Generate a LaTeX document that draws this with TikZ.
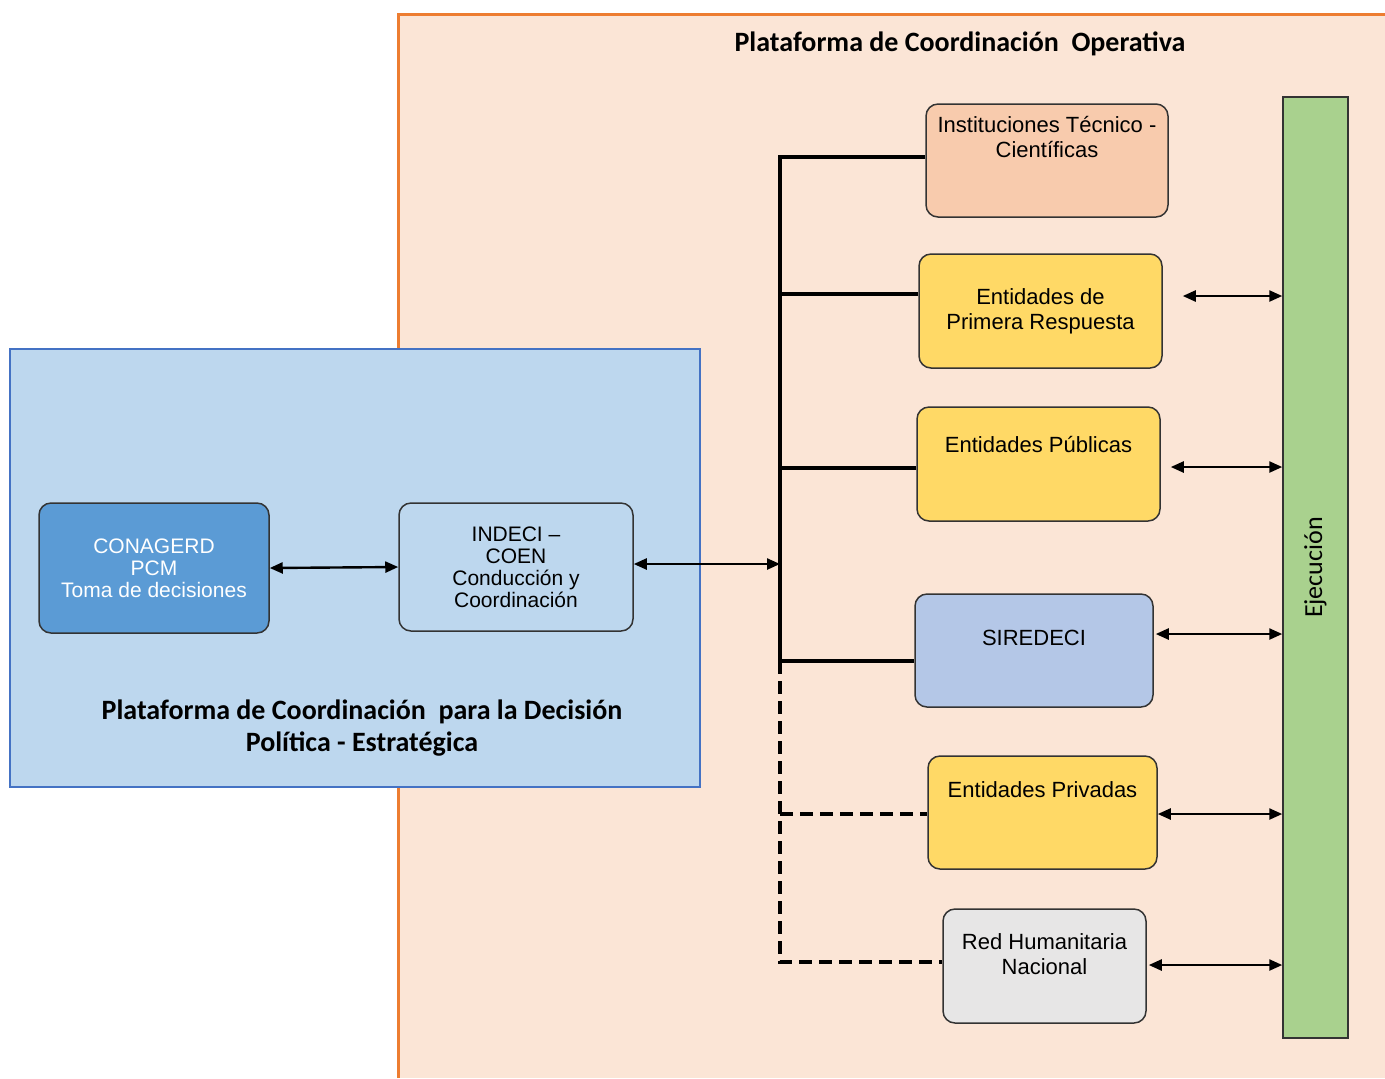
\documentclass[tikz,border=0pt]{standalone}
\usepackage{fontspec}
\setmainfont{Liberation Sans}
\newfontfamily\calibri{Carlito}
\usetikzlibrary{arrows.meta,positioning}

\definecolor{opfill}{HTML}{FBE5D6}
\definecolor{opline}{HTML}{ED7D31}
\definecolor{dpfill}{HTML}{BDD7EE}
\definecolor{dpline}{HTML}{4472C4}
\definecolor{conafill}{HTML}{5B9BD5}
\definecolor{itcfill}{HTML}{F8CBAD}
\definecolor{yelfill}{HTML}{FFD966}
\definecolor{sirfill}{HTML}{B4C7E7}
\definecolor{rhnfill}{HTML}{E7E6E6}
\definecolor{ejfill}{HTML}{A9D18E}

\begin{document}
\begin{tikzpicture}[x=0.5pt,y=-0.5pt,
  box/.style={draw=black!80,line width=0.75pt,rounded corners=6pt,align=center,
    inner sep=0pt,minimum height=57pt},
  lbox/.style={box,font=\fontsize{10.5}{11}\selectfont},
  rbox/.style={box,font=\fontsize{11}{12.5}\selectfont},
  boxtxt/.style={align=center,anchor=center,inner sep=0pt,font=\fontsize{11}{12.5}\selectfont},
  title/.style={align=center,font=\calibri\bfseries\fontsize{14}{16}\selectfont},
  busln/.style={line width=2.2pt},
  dashln/.style={dash pattern=on 6.5pt off 3.5pt},
  dbl/.style={line width=1.2pt,{Triangle[length=6.5pt,width=5.5pt]}-{Triangle[length=6.5pt,width=5.5pt]}}]
  \useasboundingbox (0,0) rectangle (1385,1078);

  % panels
  \fill[opfill] (398,14) rectangle (1385,1078);
  \draw[opline,line width=1.5pt] (398,1078) -- (398,14) -- (1385,14);
  \draw[dpline,line width=1pt,fill=dpfill] (10,349) rectangle (700,787);
  \node[title] (optitle) at (960,44) {Plataforma de Coordinación~ Operativa};
  \node[title] (dptitle) at (362,728) {Plataforma de Coordinación~ para la Decisión\\Política - Estratégica};

  % decision side
  \node[lbox,fill=conafill,text=white,minimum width=115pt,minimum height=65pt] (cona) at (154,568)
    {CONAGERD\\PCM\\Toma de decisiones};
  \node[lbox,fill=dpfill,minimum width=117pt,minimum height=64pt] (indeci) at (516,567)
    {INDECI --\\COEN\\Conducción y\\Coordinación};

  % operative side
  \node[rbox,fill=itcfill,minimum width=121pt,minimum height=56.5pt,
    label={[boxtxt,yshift=-16.75pt]north:{Instituciones Técnico -\\Científicas}}] (itc) at (1047,160.5) {};
  \node[rbox,fill=yelfill,minimum width=121.5pt] (epr) at (1040.5,311) {Entidades de\\Primera Respuesta};
  \node[rbox,fill=yelfill,minimum width=121.5pt,
    label={[boxtxt,yshift=-19pt]north:Entidades Públicas}] (ep) at (1038.5,464) {};
  \node[rbox,fill=sirfill,minimum width=119pt,minimum height=56.5pt,
    label={[boxtxt,yshift=-22.5pt]north:SIREDECI}] (sir) at (1034,650.5) {};
  \node[rbox,fill=yelfill,minimum width=114.5pt,minimum height=56.5pt,
    label={[boxtxt,yshift=-17pt]north:Entidades Privadas}] (epv) at (1042.5,812.5) {};
  \node[rbox,fill=rhnfill,minimum width=101.5pt,
    label={[boxtxt,yshift=-23pt]north:{Red Humanitaria\\Nacional}}] (rhn) at (1044.5,966) {};
  \node[draw=black!80,line width=0.75pt,fill=ejfill,minimum width=32.5pt,minimum height=470.5pt,
    font=\calibri\fontsize{13}{14}\selectfont] (ejec) at (1315.5,567.5) {\rotatebox{90}{Ejecución}};

  % bus
  \coordinate (bus) at (780,0);
  \draw[busln] ([yshift=1.75pt]itc.west) -| ([yshift=-5.25pt]sir.west -| bus) -- ([yshift=-5.25pt]sir.west);
  \draw[busln] ([yshift=8.5pt]epr.west) -- ([yshift=8.5pt]epr.west -| bus);
  \draw[busln] ([yshift=-2pt]ep.west) -- ([yshift=-2pt]ep.west -| bus);
  \draw[busln,dashln] ([yshift=-5.25pt]sir.west -| bus) |- ([yshift=2pt]rhn.west);
  \draw[busln,dashln] ([yshift=-0.75pt]epv.west -| bus) -- ([yshift=-0.75pt]epv.west);

  % arrows
  \draw[dbl] (cona.east) -- (indeci.west);
  \draw[dbl] ([yshift=1.5pt]indeci.east) -- ([yshift=1.5pt]indeci.east -| bus);
  \draw[dbl] ([xshift=10pt,yshift=7.5pt]epr.east) -- ([yshift=7.5pt]epr.east -| ejec.west);
  \draw[dbl] ([xshift=5pt,yshift=-1.5pt]ep.east) -- ([yshift=-1.5pt]ep.east -| ejec.west);
  \draw[dbl] ([xshift=1pt,yshift=8.25pt]sir.east) -- ([yshift=8.25pt]sir.east -| ejec.west);
  \draw[dbl] ([yshift=-0.75pt]epv.east) -- ([yshift=-0.75pt]epv.east -| ejec.west);
  \draw[dbl] ([xshift=1pt,yshift=0.5pt]rhn.east) -- ([yshift=0.5pt]rhn.east -| ejec.west);
\end{tikzpicture}
\end{document}
